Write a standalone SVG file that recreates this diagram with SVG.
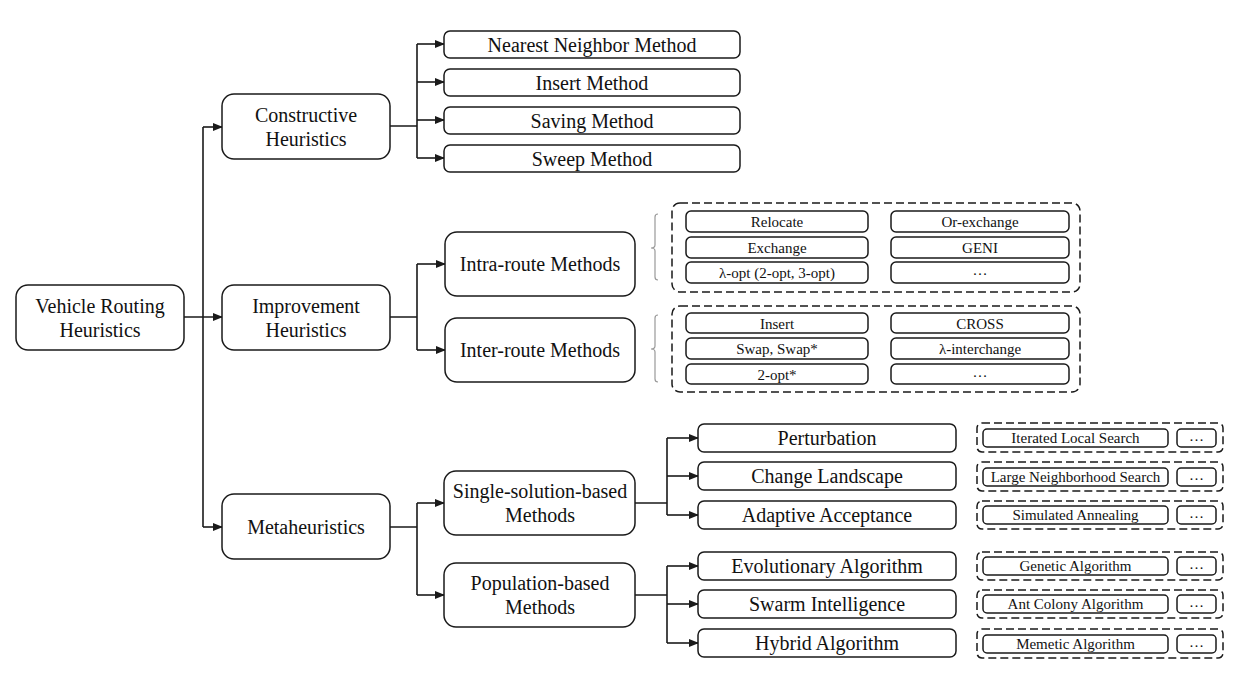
<svg xmlns="http://www.w3.org/2000/svg" width="1249" height="691" viewBox="0 0 1249 691">
<style>
.box{fill:#fff;stroke:#1a1a1a;stroke-width:1.5}
.dash{fill:none;stroke:#1a1a1a;stroke-width:1.5;stroke-dasharray:8 4}
.t{font-family:"Liberation Serif","Times New Roman",serif;font-size:20px;fill:#111;text-anchor:middle}
.s{font-family:"Liberation Serif","Times New Roman",serif;font-size:15px;fill:#111;text-anchor:middle}
.ln{fill:none;stroke:#1a1a1a;stroke-width:1.6}
.ar{fill:none;stroke:#1a1a1a;stroke-width:1.6;marker-end:url(#ah)}
.br{fill:none;stroke:#999;stroke-width:1.2}
</style>
<defs>
<marker id="ah" markerUnits="userSpaceOnUse" markerWidth="10" markerHeight="8" refX="9" refY="4" orient="auto">
<path d="M0,0 L10,4 L0,8 z" fill="#1a1a1a"/>
</marker>
</defs>
<rect width="1249" height="691" fill="#fff"/>

<g id="connectors">
<path class="ar" d="M184 317 H222"/>
<path class="ln" d="M203 127 V527"/>
<path class="ar" d="M203 127 H222"/>
<path class="ar" d="M203 527 H222"/>

<path class="ln" d="M390 126 H417 M417 44 V158"/>
<path class="ar" d="M417 44 H444"/>
<path class="ar" d="M417 82 H444"/>
<path class="ar" d="M417 120 H444"/>
<path class="ar" d="M417 158 H444"/>

<path class="ln" d="M390 317 H417 M417 264 V350"/>
<path class="ar" d="M417 264 H445"/>
<path class="ar" d="M417 350 H445"/>

<path class="ln" d="M390 527 H417 M417 503 V595"/>
<path class="ar" d="M417 503 H444"/>
<path class="ar" d="M417 595 H444"/>

<path class="ln" d="M635 503 H667 M667 438 V515"/>
<path class="ar" d="M667 438 H698"/>
<path class="ar" d="M667 476 H698"/>
<path class="ar" d="M667 515 H698"/>

<path class="ln" d="M635 595 H667 M667 566 V643"/>
<path class="ar" d="M667 566 H698"/>
<path class="ar" d="M667 604 H698"/>
<path class="ar" d="M667 643 H698"/>
</g>

<g id="vrh"><rect class="box" x="16" y="285" width="168" height="65" rx="12"/><text class="t" x="100" y="313">Vehicle Routing</text><text class="t" x="100" y="337">Heuristics</text></g>
<g id="constructive"><rect class="box" x="222" y="94" width="168" height="65" rx="12"/><text class="t" x="306" y="122">Constructive</text><text class="t" x="306" y="146">Heuristics</text></g>
<g id="improvement"><rect class="box" x="222" y="285" width="168" height="65" rx="12"/><text class="t" x="306" y="313">Improvement</text><text class="t" x="306" y="337">Heuristics</text></g>
<g id="meta"><rect class="box" x="222" y="494" width="168" height="65" rx="12"/><text class="t" x="306" y="534">Metaheuristics</text></g>

<g id="nearest"><rect class="box" x="444" y="31" width="296" height="27" rx="6"/><text class="t" x="592" y="51.5">Nearest Neighbor Method</text></g>
<g id="insert"><rect class="box" x="444" y="69" width="296" height="27" rx="6"/><text class="t" x="592" y="89.5">Insert Method</text></g>
<g id="saving"><rect class="box" x="444" y="107" width="296" height="27" rx="6"/><text class="t" x="592" y="127.5">Saving Method</text></g>
<g id="sweep"><rect class="box" x="444" y="145" width="296" height="27" rx="6"/><text class="t" x="592" y="165.5">Sweep Method</text></g>

<g id="intra"><rect class="box" x="445" y="232" width="190" height="64" rx="12"/><text class="t" x="540" y="271">Intra-route Methods</text></g>
<g id="inter"><rect class="box" x="445" y="318" width="190" height="64" rx="12"/><text class="t" x="540" y="357">Inter-route Methods</text></g>

<g id="intra-ops">
<path class="br" d="M658 214 Q655 214 655 217 V245 Q655 248 651 248 Q655 248 655 251 V277 Q655 280 658 280"/>
<rect class="dash" x="672" y="203" width="408" height="89" rx="8"/>
<rect class="box" x="686" y="211" width="182" height="21" rx="5"/><text class="s" x="777" y="227">Relocate</text>
<rect class="box" x="686" y="237" width="182" height="21" rx="5"/><text class="s" x="777" y="253">Exchange</text>
<rect class="box" x="686" y="262" width="182" height="21" rx="5"/><text class="s" x="777" y="278">λ-opt (2-opt, 3-opt)</text>
<rect class="box" x="891" y="211" width="178" height="21" rx="5"/><text class="s" x="980" y="227">Or-exchange</text>
<rect class="box" x="891" y="237" width="178" height="21" rx="5"/><text class="s" x="980" y="253">GENI</text>
<rect class="box" x="891" y="262" width="178" height="21" rx="5"/><text class="s" x="980" y="275">…</text>
</g>

<g id="inter-ops">
<path class="br" d="M658 315 Q655 315 655 318 V346 Q655 349 651 349 Q655 349 655 352 V379 Q655 382 658 382"/>
<rect class="dash" x="672" y="306" width="408" height="86" rx="8"/>
<rect class="box" x="686" y="313" width="182" height="20" rx="5"/><text class="s" x="777" y="328.5">Insert</text>
<rect class="box" x="686" y="338" width="182" height="21" rx="5"/><text class="s" x="777" y="354">Swap, Swap*</text>
<rect class="box" x="686" y="364" width="182" height="20" rx="5"/><text class="s" x="777" y="379.5">2-opt*</text>
<rect class="box" x="891" y="313" width="178" height="20" rx="5"/><text class="s" x="980" y="328.5">CROSS</text>
<rect class="box" x="891" y="338" width="178" height="21" rx="5"/><text class="s" x="980" y="354">λ-interchange</text>
<rect class="box" x="891" y="364" width="178" height="20" rx="5"/><text class="s" x="980" y="377">…</text>
</g>

<g id="single"><rect class="box" x="444" y="471" width="191" height="64" rx="12"/><text class="t" x="540" y="498">Single-solution-based</text><text class="t" x="540" y="522">Methods</text></g>
<g id="population"><rect class="box" x="444" y="563" width="191" height="64" rx="12"/><text class="t" x="540" y="590">Population-based</text><text class="t" x="540" y="614">Methods</text></g>

<g id="perturbation"><rect class="box" x="698" y="424" width="258" height="28" rx="6"/><text class="t" x="827" y="445">Perturbation</text></g>
<g id="landscape"><rect class="box" x="698" y="462" width="258" height="28" rx="6"/><text class="t" x="827" y="483">Change Landscape</text></g>
<g id="adaptive"><rect class="box" x="698" y="501" width="258" height="28" rx="6"/><text class="t" x="827" y="522">Adaptive Acceptance</text></g>
<g id="evolutionary"><rect class="box" x="698" y="552" width="258" height="28" rx="6"/><text class="t" x="827" y="573">Evolutionary Algorithm</text></g>
<g id="swarm"><rect class="box" x="698" y="590" width="258" height="28" rx="6"/><text class="t" x="827" y="611">Swarm Intelligence</text></g>
<g id="hybrid"><rect class="box" x="698" y="629" width="258" height="28" rx="6"/><text class="t" x="827" y="650">Hybrid Algorithm</text></g>

<g id="ils"><rect class="dash" x="977" y="423" width="246" height="29" rx="5"/><rect class="box" x="983" y="429" width="185" height="18" rx="4"/><text class="s" x="1075.5" y="443">Iterated Local Search</text><rect class="box" x="1177" y="429" width="39" height="18" rx="4"/><text class="s" x="1196.5" y="441">…</text></g>
<g id="lns"><rect class="dash" x="977" y="462" width="246" height="29" rx="5"/><rect class="box" x="983" y="468" width="185" height="18" rx="4"/><text class="s" x="1075.5" y="482">Large Neighborhood Search</text><rect class="box" x="1177" y="468" width="39" height="18" rx="4"/><text class="s" x="1196.5" y="480">…</text></g>
<g id="sa"><rect class="dash" x="977" y="501" width="246" height="28" rx="5"/><rect class="box" x="983" y="506" width="185" height="18" rx="4"/><text class="s" x="1075.5" y="520">Simulated Annealing</text><rect class="box" x="1177" y="506" width="39" height="18" rx="4"/><text class="s" x="1196.5" y="518">…</text></g>
<g id="ga"><rect class="dash" x="977" y="552" width="246" height="28" rx="5"/><rect class="box" x="983" y="557" width="185" height="18" rx="4"/><text class="s" x="1075.5" y="571">Genetic Algorithm</text><rect class="box" x="1177" y="557" width="39" height="18" rx="4"/><text class="s" x="1196.5" y="569">…</text></g>
<g id="aco"><rect class="dash" x="977" y="590" width="246" height="28" rx="5"/><rect class="box" x="983" y="595" width="185" height="18" rx="4"/><text class="s" x="1075.5" y="609">Ant Colony Algorithm</text><rect class="box" x="1177" y="595" width="39" height="18" rx="4"/><text class="s" x="1196.5" y="607">…</text></g>
<g id="ma"><rect class="dash" x="977" y="629" width="246" height="29" rx="5"/><rect class="box" x="983" y="635" width="185" height="18" rx="4"/><text class="s" x="1075.5" y="649">Memetic Algorithm</text><rect class="box" x="1177" y="635" width="39" height="18" rx="4"/><text class="s" x="1196.5" y="647">…</text></g>
</svg>
